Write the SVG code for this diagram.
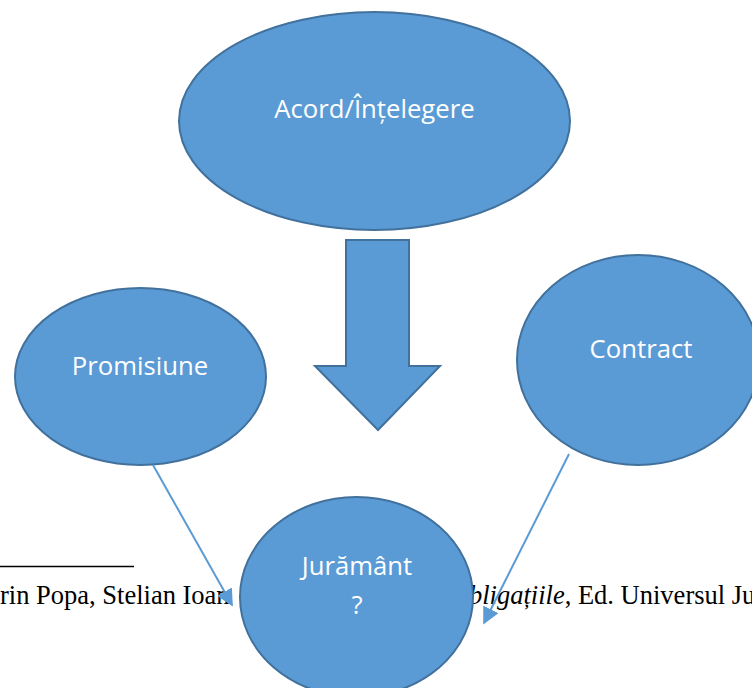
<svg xmlns="http://www.w3.org/2000/svg" width="752" height="688" viewBox="0 0 752 688">
<defs>
<style>
.shape{fill:#5b9bd5;stroke:#41719c;stroke-width:2}
.lbl{font-family:"Open Sans","Noto Sans","Liberation Sans",sans-serif;font-size:25.7px;fill:#ffffff;text-anchor:middle}
.fn{font-family:"Liberation Serif","Times New Roman",serif;font-size:26.5px;fill:#000000}
.conn{stroke:#5b9bd5;stroke-width:2;fill:none}
</style>
<marker id="ah" viewBox="0 0 10 10" refX="9" refY="5" markerWidth="8.5" markerHeight="8.5" markerUnits="strokeWidth" orient="auto">
<path d="M0,0 L10,5 L0,10 z" fill="#5b9bd5"/>
</marker>
</defs>
<rect width="752" height="688" fill="#ffffff"/>
<g id="footnote">
<line x1="0" y1="566.5" x2="134" y2="566.5" stroke="#000000" stroke-width="1.5"/>
<text class="fn" x="0" y="604">rin Popa, Stelian Ioan</text>
<text class="fn" x="469" y="604"><tspan font-style="italic">bligațiile</tspan>, Ed. Universul Ju</text>
</g>
<g id="acord">
<ellipse class="shape" cx="374.5" cy="121" rx="195.5" ry="109"/>
<text class="lbl" x="374.5" y="118">Acord/Înțelegere</text>
</g>
<g id="block-arrow">
<polygon class="shape" points="346,240 409,240 409,366 440,366 378,430 315,366 346,366"/>
</g>
<g id="promisiune">
<ellipse class="shape" cx="140.5" cy="376.5" rx="125.5" ry="88.5"/>
<text class="lbl" x="140" y="375">Promisiune</text>
</g>
<g id="contract">
<ellipse class="shape" cx="638" cy="360" rx="121" ry="105"/>
<text class="lbl" x="641" y="358">Contract</text>
</g>
<g id="juramant">
<ellipse class="shape" cx="356.5" cy="597" rx="116.5" ry="100"/>
<text class="lbl" x="357" y="575">Jurământ</text>
<text class="lbl" x="357" y="614">?</text>
</g>
<g id="connectors">
<line class="conn" x1="153" y1="465" x2="232" y2="605" marker-end="url(#ah)"/>
<line class="conn" x1="569" y1="454" x2="484" y2="623" marker-end="url(#ah)"/>
</g>
</svg>
